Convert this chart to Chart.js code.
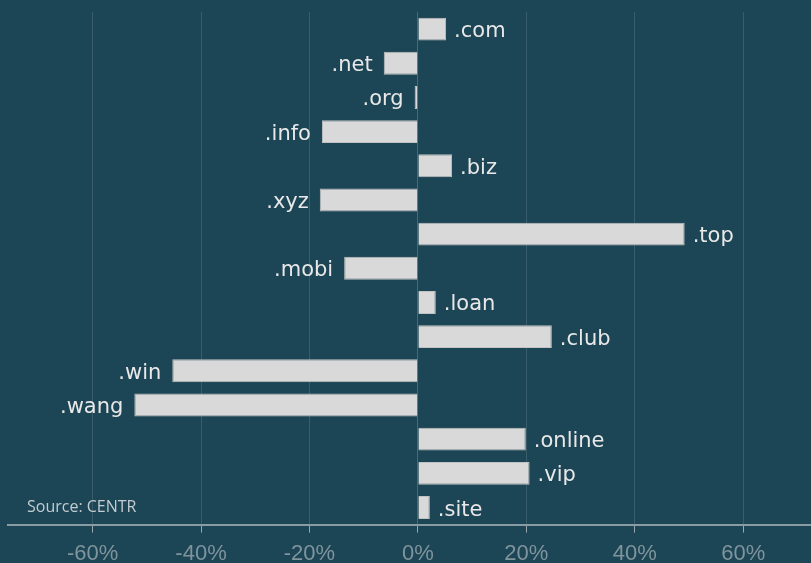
<!DOCTYPE html>
<html>
<head>
<meta charset="utf-8">
<script src="https://cdn.jsdelivr.net/npm/chart.js@4/dist/chart.umd.min.js"></script>
<style>
  html, body { margin: 0; padding: 0; background: #1c4555; }
  #wrap { width: 811px; height: 563px; }
</style>
</head>
<body>
<div id="wrap"><canvas id="tldChart"></canvas></div>
<script>
// Veränderung der Registrierungen je TLD (in %)
const domains = ['.com', '.net', '.org', '.info', '.biz', '.xyz', '.top', '.mobi',
  '.loan', '.club', '.win', '.wang', '.online', '.vip', '.site'];
const growth = [5.2, -6.3, -0.6, -17.7, 6.3, -18.1, 49.2, -13.6,
  3.3, 24.7, -45.3, -52.3, 19.9, 20.6, 2.2];
const tickValues = [-60, -40, -20, 0, 20, 40, 60];
const sourceText = 'Source: CENTR';

// Beschriftung direkt am Balkenende
const barLabels = {
  id: 'barLabels',
  afterDatasetsDraw(chart) {
    const ctx = chart.ctx;
    const meta = chart.getDatasetMeta(0);
    ctx.save();
    ctx.font = '21px "DejaVu Sans", Verdana, sans-serif';
    ctx.fillStyle = '#e8e8e8';
    ctx.textBaseline = 'alphabetic';
    meta.data.forEach((bar, i) => {
      if (growth[i] >= 0) {
        ctx.textAlign = 'left';
        ctx.fillText(domains[i], bar.x + 8, bar.y + 8);
      } else {
        ctx.textAlign = 'right';
        ctx.fillText(domains[i], bar.x - 11, bar.y + 8);
      }
    });
    // Quelle
    ctx.font = '16px "Open Sans", sans-serif';
    ctx.fillStyle = '#c3ccd0';
    ctx.textAlign = 'left';
    ctx.textBaseline = 'middle';
    ctx.fillText(sourceText, 27, 507);
    ctx.restore();
  }
};

const ctx = document.getElementById('tldChart').getContext('2d');
new Chart(ctx, {
  type: 'bar',
  data: {
    labels: domains,
    datasets: [{
      data: growth,
      backgroundColor: '#d9d9d9',
      borderColor: '#c2c2c2',
      borderWidth: 1,
      barPercentage: 0.67,
      categoryPercentage: 1.0,
    }],
  },
  options: {
    indexAxis: 'y',
    responsive: true,
    maintainAspectRatio: false,
    animation: false,
    layout: { padding: { left: 8, right: 0, top: 12, bottom: -12 } },
    plugins: { legend: { display: false }, tooltip: { enabled: false } },
    scales: {
      x: {
        min: -75.6,
        max: 72.5,
        afterBuildTicks(axis) {
          axis.ticks = tickValues.map(v => ({ value: v }));
        },
        border: { display: true, color: '#8a9ca3', width: 2 },
        grid: {
          color: (c) => c.tick && c.tick.value === 0 ? 'rgba(255,255,255,0.2)' : 'rgba(255,255,255,0.13)',
          tickColor: '#9aa8ae',
          tickLength: 8,
          lineWidth: 1,
        },
        ticks: {
          color: '#7f949c',
          font: { family: '"Liberation Sans", Arial, sans-serif', size: 22 },
          padding: 8,
          callback: (v) => v + '%',
        },
      },
      y: {
        display: false,
      },
    },
  },
  plugins: [barLabels],
});
</script>
</body>
</html>
